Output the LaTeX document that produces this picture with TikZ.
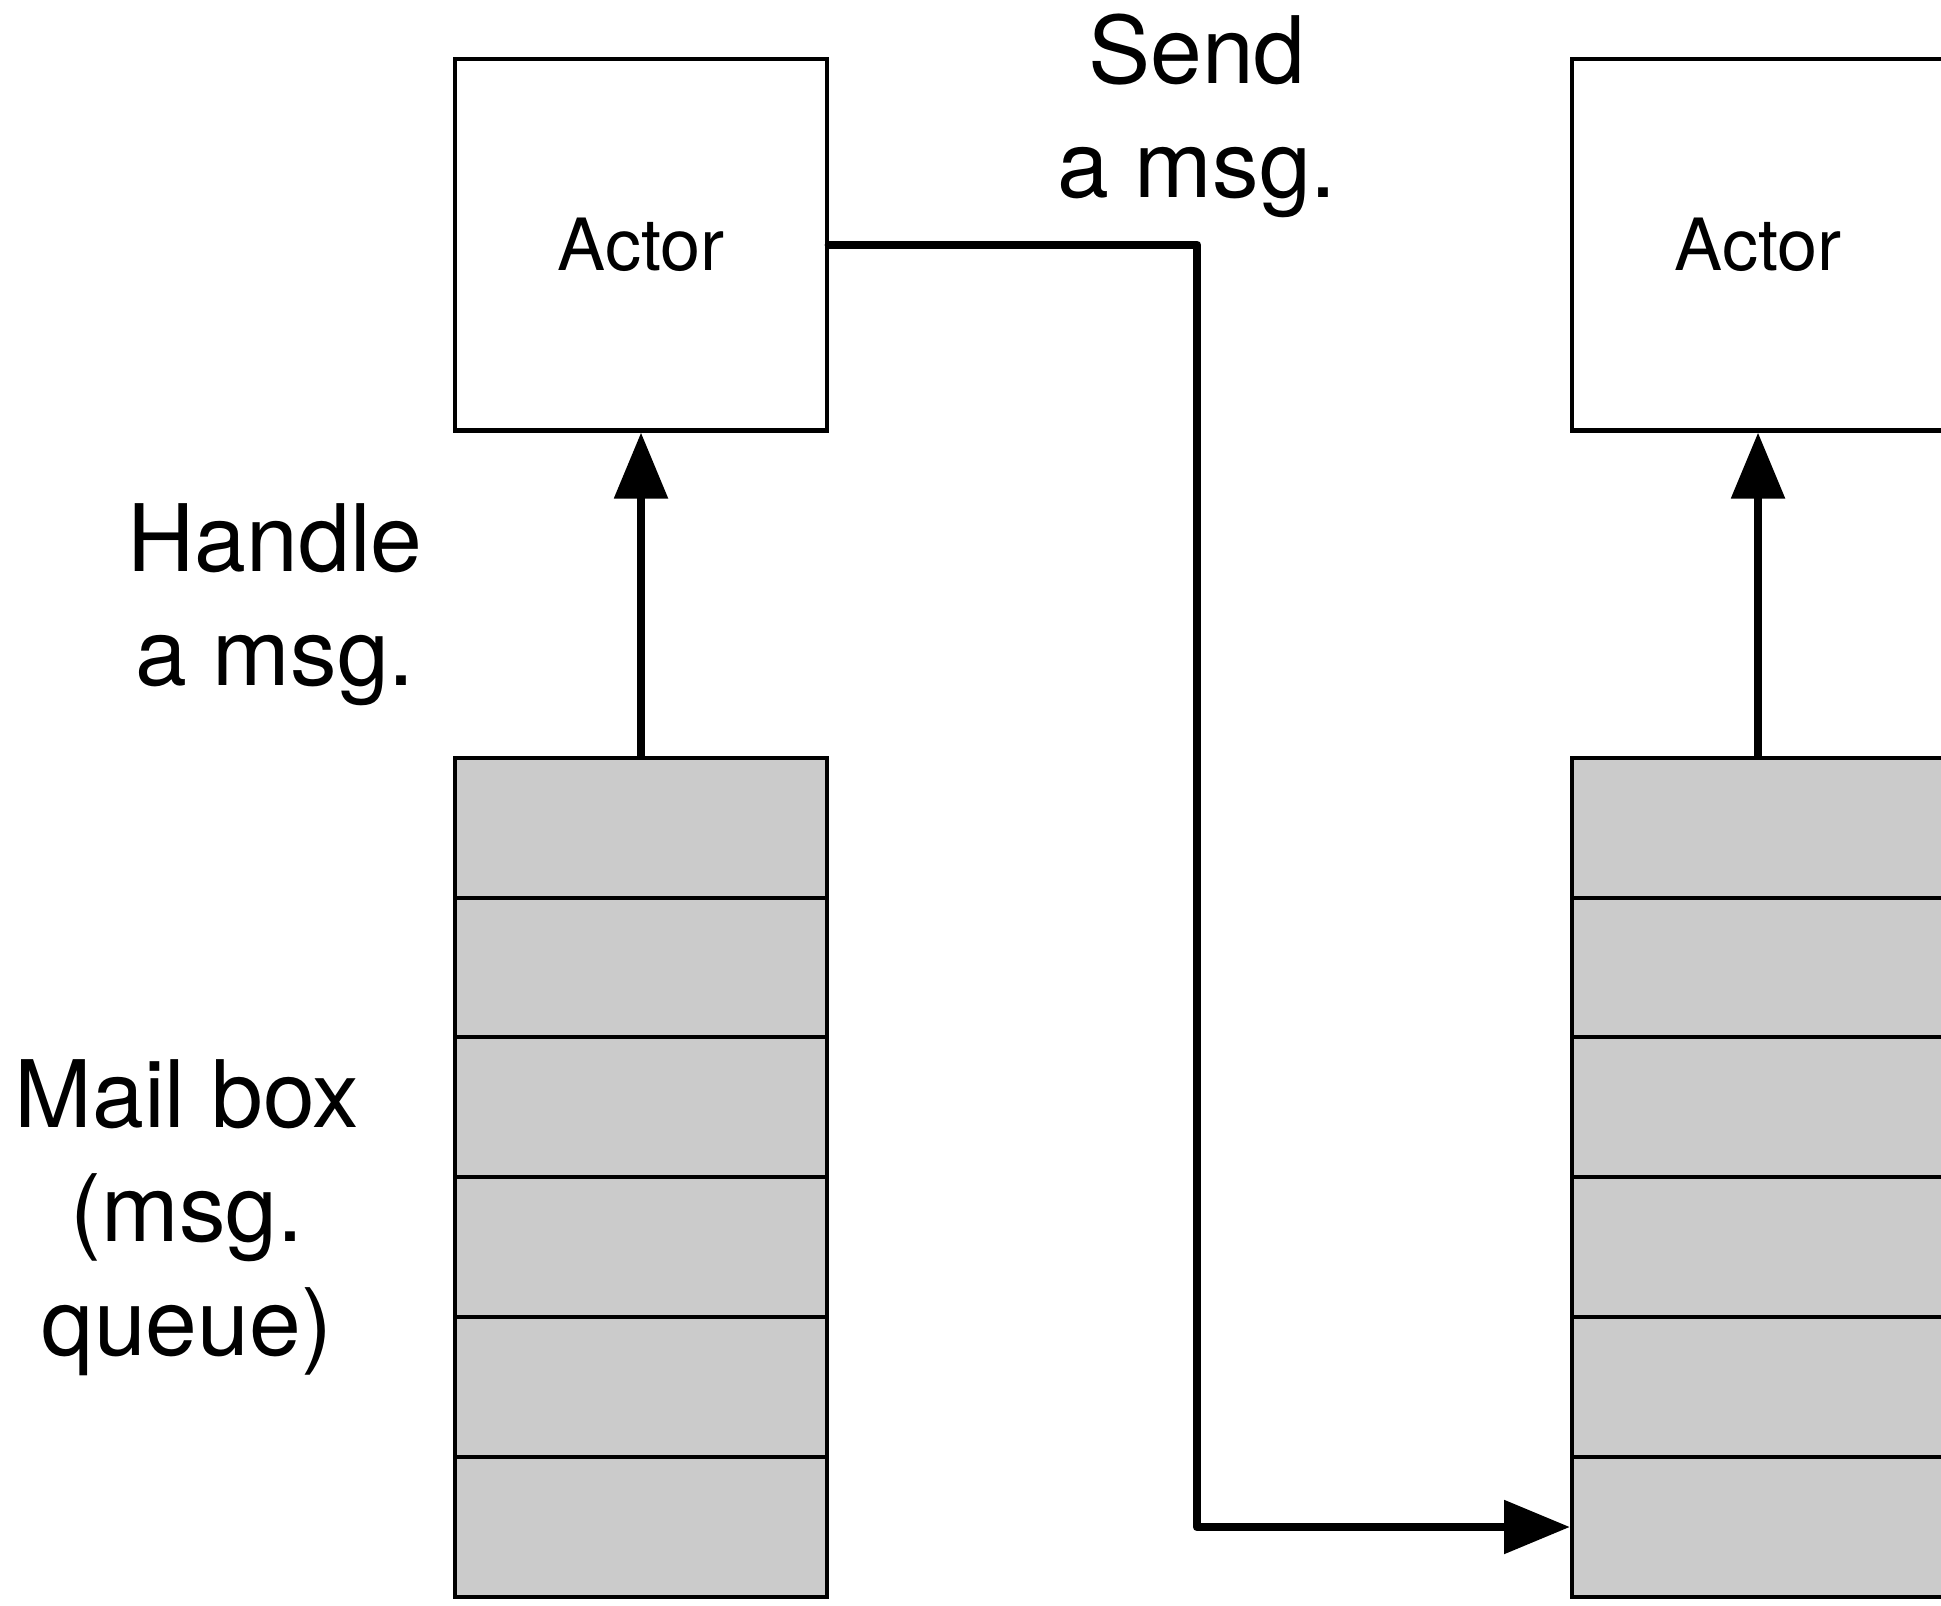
\documentclass[tikz,border=0pt]{standalone}
\usepackage{fontspec}
\setmainfont{TeX Gyre Heros}
\usetikzlibrary{arrows.meta}
\definecolor{mailgray}{RGB}{203,203,203}
\begin{document}
\begin{tikzpicture}[
        actor/.style = {draw, line width = 1.15pt, minimum width = 3.72cm, minimum height = 3.71cm, inner sep = 0mm, font = \fontsize{20.5}{24}\selectfont},
        cell/.style = {draw, fill = mailgray, line width = 1.15pt, minimum width = 3.72cm, minimum height = 1.40cm, inner sep = 0mm},
        txt/.style = {align = center, inner sep = 0mm, font = \fontsize{26.5}{32.4}\selectfont},
        arr/.style = {draw, line width = 2.5pt, -{Triangle[width = 5.2mm, length = 6.6mm]}},
        sendline/.style = {arr, line cap = round, line join = round},
    ]
    \useasboundingbox (0,0) rectangle (19.41,16.05);

    \node (lactor) [actor] at (6.41, 13.6) {Actor};
    \node (ractor) [actor] at (17.58, 13.6) {Actor};

    % left mail box
    \node (lmb1) [cell] at (6.41, 7.77) {};
    \node (lmb2) [cell] at (6.41, 6.37) {};
    \node (lmb3) [cell] at (6.41, 4.98) {};
    \node (lmb4) [cell] at (6.41, 3.58) {};
    \node (lmb5) [cell] at (6.41, 2.18) {};
    \node (lmb6) [cell] at (6.41, 0.78) {};

    % right mail box
    \node (rmb1) [cell] at (17.58, 7.77) {};
    \node (rmb2) [cell] at (17.58, 6.37) {};
    \node (rmb3) [cell] at (17.58, 4.98) {};
    \node (rmb4) [cell] at (17.58, 3.58) {};
    \node (rmb5) [cell] at (17.58, 2.18) {};
    \node (rmb6) [cell] at (17.58, 0.78) {};

    \node (send) [txt] at (11.97, 14.89) {Send\\a msg.};
    \node (handle) [txt] at (2.75, 10.0) {Handle\\a msg.};
    \node (mailbox) [txt] at (1.87, 3.87) {Mail box\\(msg.\\queue)};

    \coordinate (drop) at (11.97, 7);

    \path[arr] (lmb1) -- (lactor);
    \path[arr] (rmb1) -- (ractor);
    \path[sendline] (lactor.east) -| (drop) |- (rmb6.west);
\end{tikzpicture}
\end{document}
